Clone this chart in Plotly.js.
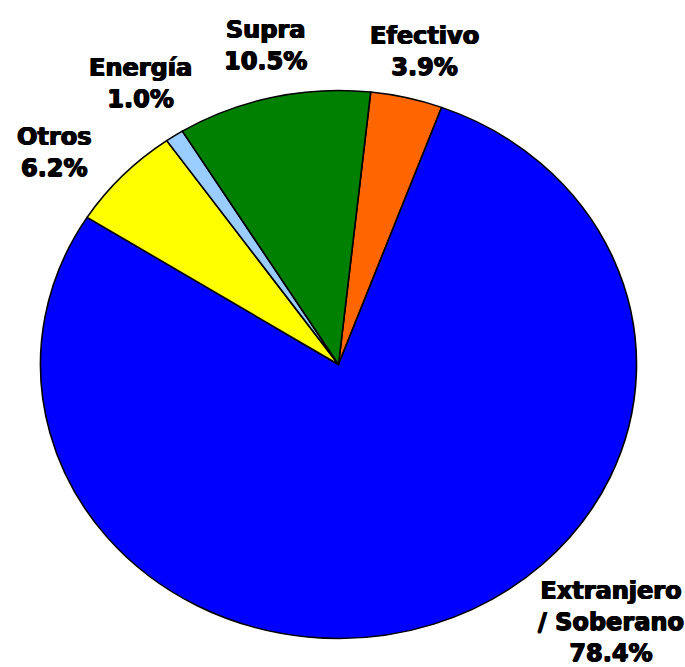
<!DOCTYPE html>
<html>
<head>
<meta charset="utf-8">
<script src="https://cdn.plot.ly/plotly-3.0.1.min.js"></script>
<style>html,body{margin:0;padding:0;background:#fff;}</style>
</head>
<body>
<div id="chart" style="width:685px;height:667px;"></div>
<script>
// Data (clockwise from the top)
var labels = ["Efectivo", "Extranjero<br>/ Soberano", "Otros", "Energía", "Supra"];
var values = [3.9, 78.4, 6.2, 1.0, 10.5];
var colors = ["#FF6600", "#0000FF", "#FFFF00", "#99CCFF", "#008000"];

// label block centres in pixels (layout only)
var labelPos = [[424, 51], [611, 622], [54, 153], [140, 84], [265, 45]];

var W = 685, H = 667;
var cx = 338.5, cy = 364.5, rx = 298, ry = 274;

var annotations = labels.map(function (l, i) {
  return {
    text: l + "<br>" + values[i].toFixed(1) + "%",
    x: labelPos[i][0] / W, y: 1 - labelPos[i][1] / H,
    xref: "paper", yref: "paper", xanchor: "center", yanchor: "middle",
    showarrow: false, align: "center",
    font: {family: "DejaVu Sans", size: 24, color: "#000", weight: "bold",
           shadow: "0.7px 0 0 #000, -0.7px 0 0 #000, 0 0.4px 0 #000"}
  };
});

var trace = {
  type: "pie",
  labels: labels, values: values,
  marker: {colors: colors, line: {color: "#000", width: 1.5}},
  sort: false, direction: "clockwise", rotation: 6.2,
  textinfo: "none", hoverinfo: "none",
  domain: {x: [(cx - ry) / W, (cx + ry) / W], y: [1 - (cy + ry) / H, 1 - (cy - ry) / H]}
};

var layout = {
  width: W, height: H,
  margin: {l: 0, r: 0, t: 0, b: 0},
  paper_bgcolor: "#fff", plot_bgcolor: "#fff",
  showlegend: false,
  annotations: annotations
};

Plotly.newPlot("chart", [trace], layout, {displayModeBar: false, staticPlot: true}).then(function (gd) {
  var sx = rx / ry;
  var pl = gd.querySelector(".pielayer");
  if (pl) pl.setAttribute("transform", "translate(" + cx + ",0) scale(" + sx + ",1) translate(" + (-cx) + ",0)");
});
</script>
</body>
</html>
